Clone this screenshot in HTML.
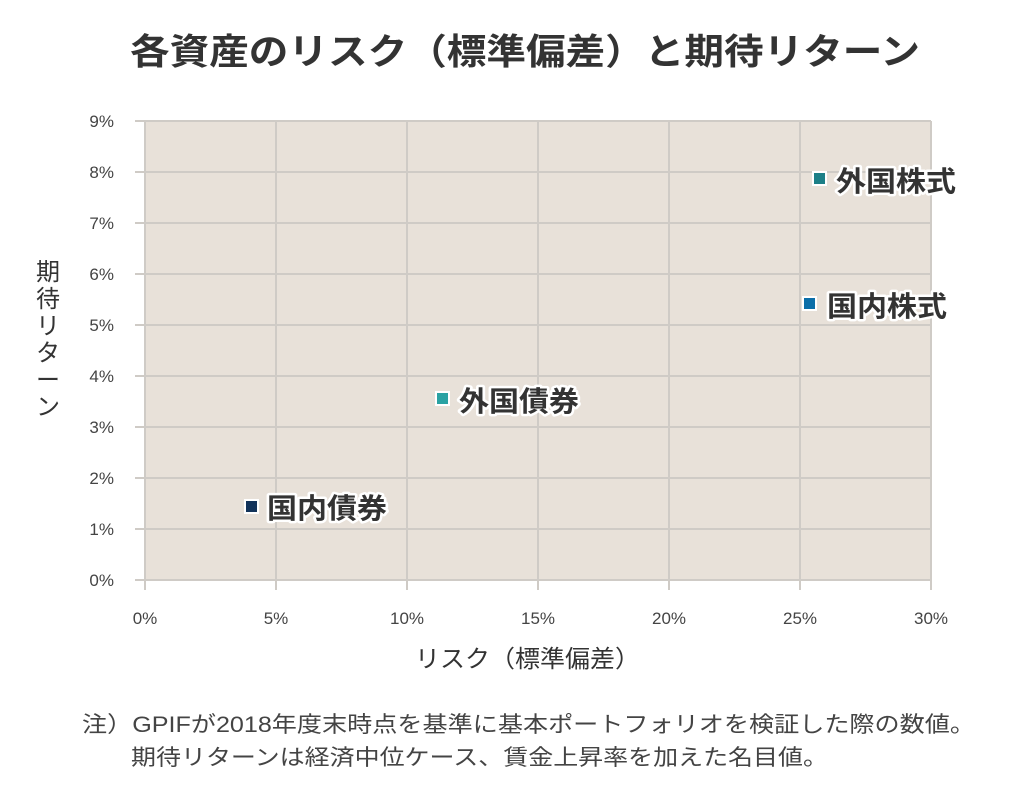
<!DOCTYPE html>
<html><head><meta charset="utf-8"><style>
body{margin:0;background:#fff;width:1022px;height:804px;overflow:hidden}
svg text{font-family:"Liberation Sans","Noto Sans CJK JP",sans-serif}
</style></head><body>
<svg width="1022" height="804" viewBox="0 0 1022 804">
<text x="130" y="64" font-size="36" font-weight="bold" fill="#333" textLength="790" lengthAdjust="spacingAndGlyphs">各資産のリスク（標準偏差）と期待リターン</text>
<rect x="145" y="121" width="786" height="459" fill="#e8e1d9"/>
<g stroke="#cfcbc6" stroke-width="2">
<line x1="135" y1="121" x2="931" y2="121"/><line x1="135" y1="172" x2="931" y2="172"/>
<line x1="135" y1="223" x2="931" y2="223"/><line x1="135" y1="274" x2="931" y2="274"/>
<line x1="135" y1="325" x2="931" y2="325"/><line x1="135" y1="376" x2="931" y2="376"/>
<line x1="135" y1="427" x2="931" y2="427"/><line x1="135" y1="478" x2="931" y2="478"/>
<line x1="135" y1="529" x2="931" y2="529"/><line x1="135" y1="580" x2="931" y2="580"/>
<line x1="145" y1="121" x2="145" y2="590"/><line x1="276" y1="121" x2="276" y2="590"/>
<line x1="407" y1="121" x2="407" y2="590"/><line x1="538" y1="121" x2="538" y2="590"/>
<line x1="669" y1="121" x2="669" y2="590"/><line x1="800" y1="121" x2="800" y2="590"/>
<line x1="931" y1="121" x2="931" y2="590"/>
</g>
<g font-size="17" fill="#444" text-anchor="end">
<text x="114" y="127">9%</text><text x="114" y="178">8%</text><text x="114" y="229">7%</text>
<text x="114" y="280">6%</text><text x="114" y="331">5%</text><text x="114" y="382">4%</text>
<text x="114" y="433">3%</text><text x="114" y="484">2%</text><text x="114" y="535">1%</text>
<text x="114" y="586">0%</text>
</g>
<g font-size="17" fill="#444" text-anchor="middle">
<text x="145" y="624">0%</text><text x="276" y="624">5%</text><text x="407" y="624">10%</text>
<text x="538" y="624">15%</text><text x="669" y="624">20%</text><text x="800" y="624">25%</text>
<text x="931" y="624">30%</text>
</g>
<text x="415" y="667" font-size="24" fill="#333" textLength="225" lengthAdjust="spacingAndGlyphs">リスク（標準偏差）</text>
<g font-size="24" fill="#333" text-anchor="middle">
<text x="48" y="280">期</text><text x="48" y="307">待</text><text x="48" y="334">リ</text>
<text x="48" y="361">タ</text><text x="48" y="388">ー</text><text x="48" y="415">ン</text>
</g>
<g stroke="#fff" stroke-width="2">
<rect x="813" y="172" width="13" height="13" fill="#1c7f87"/>
<rect x="803" y="297" width="13" height="13" fill="#0b6ea8"/>
<rect x="436" y="392" width="13" height="13" fill="#2aa2a3"/>
<rect x="245" y="500" width="13" height="13" fill="#12335a"/>
</g>
<g font-size="28" font-weight="bold" fill="#333" stroke="#fff" stroke-width="5" paint-order="stroke" stroke-linejoin="round">
<text x="836" y="191" textLength="120" lengthAdjust="spacingAndGlyphs">外国株式</text>
<text x="827" y="316" textLength="120" lengthAdjust="spacingAndGlyphs">国内株式</text>
<text x="459" y="411" textLength="120" lengthAdjust="spacingAndGlyphs">外国債券</text>
<text x="267" y="518" textLength="120" lengthAdjust="spacingAndGlyphs">国内債券</text>
</g>
<text x="82" y="732" font-size="22" fill="#444" textLength="893" lengthAdjust="spacingAndGlyphs">注）GPIFが2018年度末時点を基準に基本ポートフォリオを検証した際の数値。</text>
<text x="131" y="765" font-size="22" fill="#444" textLength="697" lengthAdjust="spacingAndGlyphs">期待リターンは経済中位ケース、賃金上昇率を加えた名目値。</text>
</svg>
</body></html>
